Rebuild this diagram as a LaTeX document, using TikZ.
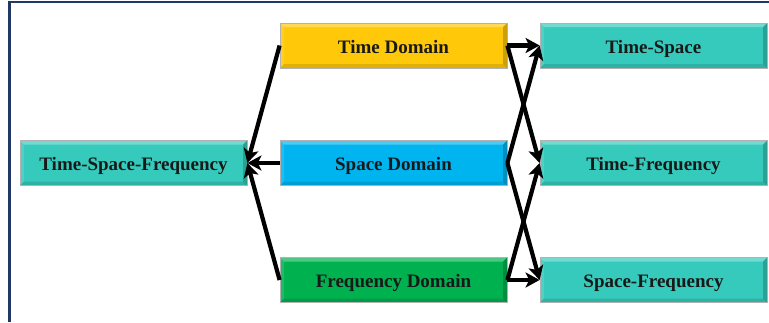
\documentclass[tikz,border=0pt]{standalone}
\usepackage{fontspec}
\setmainfont{Liberation Serif}
\usetikzlibrary{arrows.meta}
\definecolor{navy}{HTML}{1F3864}
\definecolor{cyel}{HTML}{FFC90A}
\definecolor{cblue}{HTML}{00B4F0}
\definecolor{cgreen}{HTML}{00B150}
\definecolor{cteal}{HTML}{36CABC}
\tikzset{
  bevel/.style={draw=gray!60, line width=0.8pt, minimum width=227pt, minimum height=45pt,
    inner sep=0pt, text height=15pt, text depth=0pt,
    font=\fontsize{19}{20}\selectfont\bfseries, text=black!90,
    path picture={
      \fill[white,opacity=0.3] (path picture bounding box.north west) -- (path picture bounding box.north east)
        -- ([shift={(-4pt,-4pt)}]path picture bounding box.north east) -- ([shift={(4pt,-4pt)}]path picture bounding box.north west) -- cycle;
      \fill[white,opacity=0.12] (path picture bounding box.north west) -- ([shift={(4pt,-4pt)}]path picture bounding box.north west)
        -- ([shift={(4pt,4pt)}]path picture bounding box.south west) -- (path picture bounding box.south west) -- cycle;
      \fill[black,opacity=0.12] (path picture bounding box.south west) -- (path picture bounding box.south east)
        -- ([shift={(-4pt,4pt)}]path picture bounding box.south east) -- ([shift={(4pt,4pt)}]path picture bounding box.south west) -- cycle;
      \fill[black,opacity=0.2] (path picture bounding box.north east) -- (path picture bounding box.south east)
        -- ([shift={(-4pt,4pt)}]path picture bounding box.south east) -- ([shift={(-4pt,-4pt)}]path picture bounding box.north east) -- cycle;
    }},
  arr/.style={line width=4.2pt, -{Stealth[length=14pt,width=15pt,inset=3.5pt]}},
}
\begin{document}
\begin{tikzpicture}[x=1pt,y=-1pt]
\useasboundingbox (0,0) rectangle (769,322);
\fill[white] (0,0) rectangle (769,322);
\draw[navy,line width=2.5pt] (9.5,322) -- (9.5,2) -- (769,2);
\node[bevel,fill=cteal] (tsf) at (133.5,163) {Time-Space-Frequency};
\node[bevel,fill=cyel] (td) at (393.5,45.5) {Time Domain};
\node[bevel,fill=cblue] (sd) at (393.5,163) {Space Domain};
\node[bevel,fill=cgreen] (fd) at (393.5,280) {Frequency Domain};
\node[bevel,fill=cteal] (ts) at (653.5,45.5) {Time-Space};
\node[bevel,fill=cteal] (tf) at (653.5,163) {Time-Frequency};
\node[bevel,fill=cteal] (sf) at (653.5,280) {Space-Frequency};
\draw[arr] (td.west) -- (tsf.east);
\draw[arr] (sd.west) -- (tsf.east);
\draw[arr] (fd.west) -- (tsf.east);
\draw[arr] (td.east) -- (ts.west);
\draw[arr] (td.east) -- (tf.west);
\draw[arr] (sd.east) -- (ts.west);
\draw[arr] (sd.east) -- (sf.west);
\draw[arr] (fd.east) -- (tf.west);
\draw[arr] (fd.east) -- (sf.west);
\end{tikzpicture}
\end{document}
